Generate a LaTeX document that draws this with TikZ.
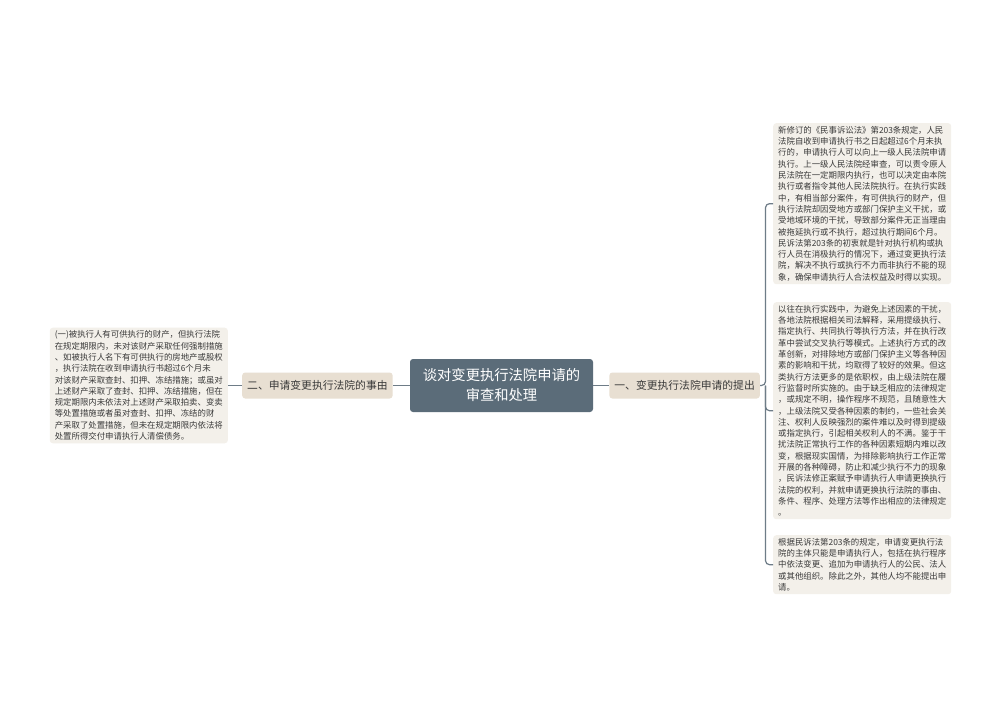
\documentclass[tikz,border=0pt]{standalone}
\usepackage{fontspec}
\setmainfont{Noto Sans CJK SC}
\usetikzlibrary{positioning}
\definecolor{topicfill}{HTML}{5B6C79}
\definecolor{branchfill}{HTML}{E8DFD2}
\definecolor{leaffill}{HTML}{F3F0EA}
\definecolor{linkcol}{HTML}{6E7C87}
\definecolor{leaftext}{HTML}{3A3A3A}
\tikzset{
    %Define style for the central topic
    topic/.style={
           rectangle,
           rounded corners=3pt,
           fill=topicfill,
           text=white,
           minimum width=183pt,
           minimum height=53pt,
           align=center,
           font=\fontsize{14.3}{20}\selectfont},
    %Define style for branch boxes
    branch/.style={
           rectangle,
           rounded corners=3pt,
           fill=branchfill,
           text=leaftext,
           inner xsep=5pt,
           minimum height=26pt,
           font=\fontsize{10.8}{13}\selectfont},
    %Define style for text boxes
    leaf/.style={
           rectangle,
           rounded corners=3pt,
           fill=leaffill,
           text=leaftext,
           text width=168pt,
           inner xsep=5pt,
           inner ysep=3pt,
           align=left,
           font=\fontsize{8.4}{11.3}\selectfont},
    % Define connector style
    link/.style={
           draw=linkcol,
           line width=1.2pt,
           rounded corners=4pt}
}

\begin{document}
\begin{tikzpicture}[x=1pt,y=-1pt]
\useasboundingbox[fill=white] (0,0) rectangle (1000,720);
\node[topic](c) at (501.5,385.5){谈对变更执行法院申请的\\审查和处理};
\node[branch, right=16pt of c](rb){一、变更执行法院申请的提出};
\node[branch, left=17pt of c](lb){二、申请变更执行法院的事由};
\node[leaf, anchor=east, left=14pt of lb](l1){(一)被执行人有可供执行的财产，但执行法院\\在规定期限内，未对该财产采取任何强制措施\\、如被执行人名下有可供执行的房地产或股权\\，执行法院在收到申请执行书超过6个月未\\对该财产采取查封、扣押、冻结措施；或虽对\\上述财产采取了查封、扣押、冻结措施，但在\\规定期限内未依法对上述财产采取拍卖、变卖\\等处置措施或者虽对查封、扣押、冻结的财\\产采取了处置措施，但未在规定期限内依法将\\处置所得交付申请执行人清偿债务。};
\node[leaf, anchor=north west](r1) at (773,123){新修订的《民事诉讼法》第203条规定，人民\\法院自收到申请执行书之日起超过6个月未执\\行的，申请执行人可以向上一级人民法院申请\\执行。上一级人民法院经审查，可以责令原人\\民法院在一定期限内执行，也可以决定由本院\\执行或者指令其他人民法院执行。在执行实践\\中，有相当部分案件，有可供执行的财产，但\\执行法院却因受地方或部门保护主义干扰，或\\受地域环境的干扰，导致部分案件无正当理由\\被拖延执行或不执行，超过执行期间6个月。\\民诉法第203条的初衷就是针对执行机构或执\\行人员在消极执行的情况下，通过变更执行法\\院，解决不执行或执行不力而非执行不能的现\\象，确保申请执行人合法权益及时得以实现。};
\node[leaf, anchor=north west](r2) at (773,302){以往在执行实践中，为避免上述因素的干扰，\\各地法院根据相关司法解释，采用提级执行、\\指定执行、共同执行等执行方法，并在执行改\\革中尝试交叉执行等模式。上述执行方式的改\\革创新，对排除地方或部门保护主义等各种因\\素的影响和干扰，均取得了较好的效果。但这\\类执行方法更多的是依职权，由上级法院在履\\行监督时所实施的。由于缺乏相应的法律规定\\，或规定不明，操作程序不规范，且随意性大\\，上级法院又受各种因素的制约，一些社会关\\注、权利人反映强烈的案件难以及时得到提级\\或指定执行，引起相关权利人的不满。鉴于干\\扰法院正常执行工作的各种因素短期内难以改\\变，根据现实国情，为排除影响执行工作正常\\开展的各种障碍，防止和减少执行不力的现象\\，民诉法修正案赋予申请执行人申请更换执行\\法院的权利，并就申请更换执行法院的事由、\\条件、程序、处理方法等作出相应的法律规定\\。};
\node[leaf, anchor=north west](r3) at (773,535){根据民诉法第203条的规定，申请变更执行法\\院的主体只能是申请执行人，包括在执行程序\\中依法变更、追加为申请执行人的公民、法人\\或其他组织。除此之外，其他人均不能提出申\\请。};
\coordinate (hub) at (765.5,0);
\draw[link] (c.east) -- (rb.west);
\draw[link] (c.west) -- (lb.east);
\draw[link] (lb.west) -- (l1.east);
\draw[link] (rb.east) -| (hub |- r1.west) -- (r1.west);
\draw[link] (hub |- rb.east) |- (r2.west);
\draw[link] (hub |- rb.east) |- (r3.west);
\end{tikzpicture}
\end{document}
